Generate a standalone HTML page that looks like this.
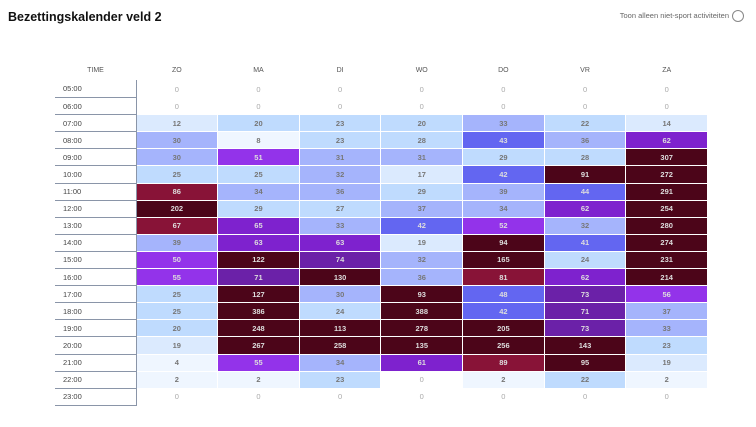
<!DOCTYPE html>
<html><head><meta charset="utf-8"><style>
body{margin:0;width:756px;height:427px;background:#fff;font-family:"Liberation Sans",sans-serif;position:relative;overflow:hidden}
h1{position:absolute;left:8px;top:10px;margin:0;font-size:12.5px;font-weight:bold;color:#111}
.tg{position:absolute;right:27px;top:11px;font-size:7.5px;color:#666;white-space:nowrap}
.cir{position:absolute;left:732px;top:10px;width:10px;height:10px;border:1px solid #888;border-radius:50%}
table{position:absolute;left:55px;top:60px;width:653px;border-collapse:collapse;table-layout:fixed}
th{font-size:7px;font-weight:normal;color:#555;height:18px;text-align:center}
td{height:16.1px;padding:0;font-size:7.5px;text-align:center;color:#777;border:0.5px solid #fff;font-weight:bold}
td.t{text-align:left;padding-left:8px;font-weight:normal;color:#444;border:none;border-right:1px solid #8a95a8;border-bottom:1px solid #8a95a8}
td.z{color:#aaa;font-weight:normal}
td.d{color:#ddd}
</style></head><body>
<h1>Bezettingskalender veld 2</h1>
<div class="tg">Toon alleen niet-sport activiteiten</div><div class="cir"></div>
<table id="t"><colgroup><col style="width:81px"><col><col><col><col><col><col><col></colgroup>
<tr><th>TIME</th><th>ZO</th><th>MA</th><th>DI</th><th>WO</th><th>DO</th><th>VR</th><th>ZA</th></tr>
</table>
<script>
var D=[[0,0,0,0,0,0,0],[0,0,0,0,0,0,0],[12,20,23,20,33,22,14],[30,8,23,28,43,36,62],[30,51,31,31,29,28,307],[25,25,32,17,42,91,272],[86,34,36,29,39,44,291],[202,29,27,37,34,62,254],[67,65,33,42,52,32,280],[39,63,63,19,94,41,274],[50,122,74,32,165,24,231],[55,71,130,36,81,62,214],[25,127,30,93,48,73,56],[25,386,24,388,42,71,37],[20,248,113,278,205,73,33],[19,267,258,135,256,143,23],[4,55,34,61,89,95,19],[2,2,23,0,2,22,2],[0,0,0,0,0,0,0]];
function c(v){if(v==0)return'#fff';if(v<10)return'#eff6ff';if(v<20)return'#dbeafe';if(v<30)return'#bfdbfe';if(v<40)return'#a5b4fc';if(v<50)return'#6366f1';if(v<60)return'#9333ea';if(v<70)return'#7e22ce';if(v<80)return'#6b21a8';if(v<90)return'#881337';return'#4c0519';}
var h='';for(var i=0;i<19;i++){var hh=(i+5<10?'0':'')+(i+5)+':00';h+='<tr><td class="t">'+hh+'</td>';for(var j=0;j<7;j++){var v=D[i][j];var col=(i==8&&j==0)?'#881337':c(v);var cls=v==0?'z':(v>=40?'d':'');h+='<td class="'+cls+'" style="background:'+col+'">'+v+'</td>';}h+='</tr>';}
document.getElementById('t').insertAdjacentHTML('beforeend',h);
</script>
</body></html>
